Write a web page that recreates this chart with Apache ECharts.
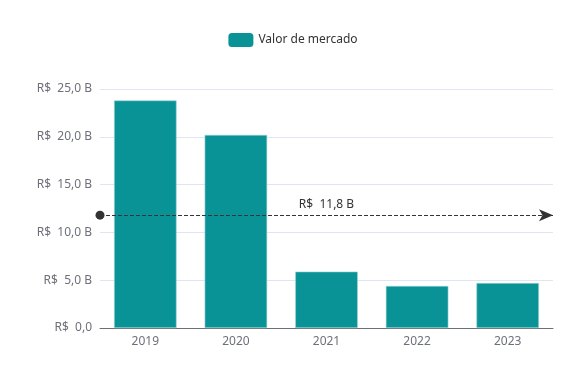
<!DOCTYPE html>
<html><head><meta charset="utf-8">
<script src="https://cdn.jsdelivr.net/npm/echarts@6/dist/echarts.min.js"></script>
<style>html,body{margin:0;padding:0;background:#fff}#c{width:586px;height:382px}</style>
</head><body><div id="c"></div>
<script>
const categories = ['2019', '2020', '2021', '2022', '2023'];
const marketValue = [23.8, 20.2, 5.9, 4.4, 4.7];
const seriesName = 'Valor de mercado';

function fmt(v) {
  if (v === 0) return 'R$  0,0';
  return 'R$  ' + v.toFixed(1).replace('.', ',') + ' B';
}

const chart = echarts.init(document.getElementById('c'));
chart.setOption({
  textStyle: { fontFamily: 'Noto Sans' },
  legend: {
    top: 28, left: 'center',
    itemWidth: 25, itemHeight: 14,
    icon: 'roundRect',
    itemStyle: { borderWidth: 0 },
    textStyle: { color: '#333', fontSize: 12, fontFamily: 'Noto Sans' },
    data: [seriesName]
  },
  grid: { left: 100, right: 33, top: 89, bottom: 54 },
  xAxis: {
    type: 'category', data: categories,
    axisLine: { lineStyle: { color: '#6e7079' } },
    axisTick: { alignWithLabel: false },
    axisLabel: { color: '#6e7079', fontSize: 12, margin: 8 }
  },
  yAxis: {
    type: 'value', min: 0, max: 25, interval: 5,
    axisLabel: { color: '#6e7079', fontSize: 12, formatter: fmt },
    splitLine: { lineStyle: { color: '#e0e6f1' } }
  },
  series: [{
    name: seriesName, type: 'bar', data: marketValue,
    barWidth: '69%',
    itemStyle: { color: '#0a9396', borderColor: '#9fd3d4', borderWidth: 0.6 },
    markLine: {
      silent: true,
      symbol: ['circle', 'arrow'],
      symbolSize: [9, 14],
      lineStyle: { color: '#333', type: 'dashed', width: 1 },
      label: {
        position: 'middle', color: '#333', fontSize: 12,
        formatter: p => fmt(p.value)
      },
      data: [{ type: 'average', name: 'Média' }]
    }
  }]
});
</script></body></html>
